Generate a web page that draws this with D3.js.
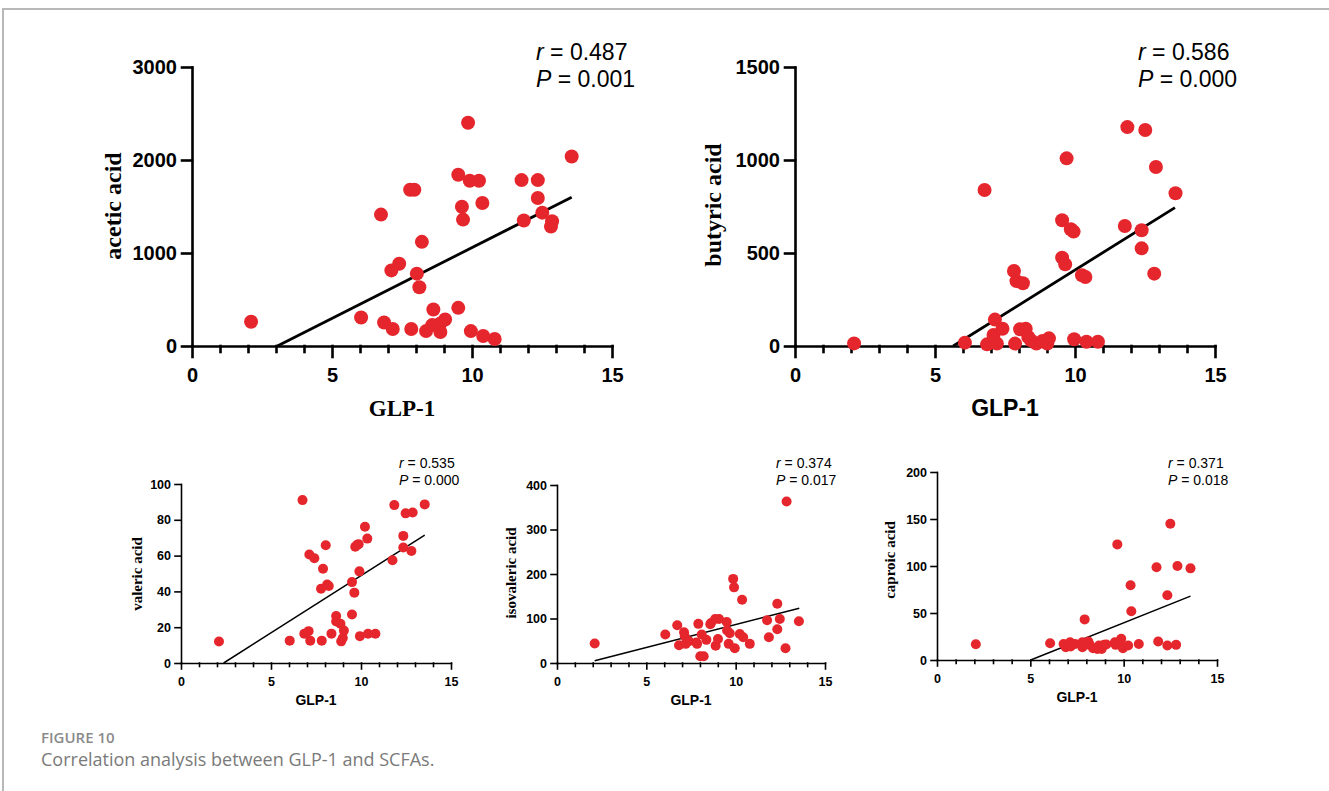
<!DOCTYPE html>
<html>
<head>
<meta charset="utf-8">
<script src="https://cdn.jsdelivr.net/npm/d3@7"></script>
<style>
  html, body { margin: 0; padding: 0; background: #fff; }
  svg { display: block; }
</style>
</head>
<body>
<svg id="fig" width="1329" height="791"></svg>
<script>
// Correlation between GLP-1 and SCFAs, five scatter panels


// -- Data -- //

// acetic acid
const aceticGlp = [2.11, 6.04, 6.75, 6.86, 7.12, 7.17, 7.40, 7.83, 7.79, 7.94, 8.03, 8.12, 8.21, 8.36, 8.58, 8.62, 8.87, 8.87, 9.04, 9.51, 9.51, 9.64, 9.68, 9.86, 9.92, 9.96, 10.25, 10.37, 10.40, 10.81, 11.77, 11.85, 12.35, 12.35, 12.51, 12.86, 12.82, 13.56];
const aceticVals = [260, 307, 1413, 253, 813, 182, 885, 182, 1680, 1680, 778, 631, 1120, 160, 225, 392, 150, 243, 285, 410, 1841, 1498, 1359, 2401, 1777, 160, 1777, 1538, 107, 75, 1784, 1349, 1784, 1591, 1434, 1341, 1284, 2037];
const aceticFit = [[3.05, 0], [13.56, 1600]];
const aceticTicks = [0, 1000, 2000, 3000];
const aceticStats = ["0.487", "0.001"];

// butyric acid
const butyricGlp = [2.11, 6.07, 6.77, 6.86, 7.09, 7.14, 7.21, 7.41, 7.82, 7.86, 7.91, 8.14, 8.04, 8.24, 8.33, 8.43, 8.62, 8.84, 9.01, 9.07, 9.54, 9.54, 9.65, 9.70, 9.85, 9.95, 9.97, 10.25, 10.37, 10.41, 10.82, 11.78, 11.87, 12.38, 12.38, 12.51, 12.83, 12.89, 13.59];
const butyricVals = [14, 18, 839, 9, 59, 142, 13, 93, 403, 13, 349, 337, 90, 93, 48, 30, 13, 27, 13, 41, 676, 475, 439, 1009, 628, 615, 36, 380, 371, 23, 23, 645, 1177, 622, 525, 1161, 389, 962, 821];
const butyricFit = [[5.65, 0], [13.57, 744]];
const butyricTicks = [0, 500, 1000, 1500];
const butyricStats = ["0.586", "0.000"];

// valeric acid
const valericGlp = [2.11, 6.04, 6.75, 6.85, 7.09, 7.13, 7.18, 7.41, 7.78, 7.82, 7.89, 8.04, 8.12, 8.21, 8.36, 8.62, 8.62, 8.86, 8.90, 8.99, 9.05, 9.50, 9.50, 9.63, 9.68, 9.79, 9.87, 9.91, 9.94, 10.22, 10.35, 10.39, 10.80, 11.75, 11.85, 12.35, 12.35, 12.48, 12.80, 12.87, 13.54];
const valericVals = [12, 12.5, 91, 16.3, 17.8, 60.6, 12.5, 58.5, 41.5, 12.5, 52.7, 65.8, 43.9, 43, 16.4, 26.2, 23.2, 21.9, 12.1, 14, 18.1, 27.1, 45.2, 39.3, 64.9, 66, 66.4, 51.2, 15, 76.1, 69.5, 16.3, 16.3, 57.4, 88.2, 71, 64.5, 83.6, 62.6, 84.1, 88.6];
const valericFit = [[2.37, 0], [13.54, 71.4]];
const valericTicks = [0, 20, 40, 60, 80, 100];
const valericStats = ["0.535", "0.000"];

// isovaleric acid
const isovalericGlp = [2.11, 6.06, 6.73, 6.83, 7.11, 7.15, 7.20, 7.39, 7.80, 7.84, 7.91, 8.02, 8.10, 8.21, 8.36, 8.58, 8.62, 8.85, 8.88, 9.01, 9.07, 9.50, 9.52, 9.61, 9.67, 9.86, 9.91, 9.95, 10.23, 10.36, 10.42, 10.79, 11.76, 11.86, 12.33, 12.33, 12.47, 12.79, 12.85, 13.54];
const isovalericVals = [44, 64, 85, 40, 69, 60, 43, 49, 46, 43, 88, 15, 64, 15, 52, 87, 90, 99, 39, 54, 99, 92, 73, 43, 67, 189, 170, 33, 65, 142, 58, 43, 96, 58, 133, 76, 99, 33, 363, 94];
const isovalericFit = [[2.11, 5], [13.56, 123]];
const isovalericTicks = [0, 100, 200, 300, 400];
const isovalericStats = ["0.374", "0.017"];

// caproic acid
const caproicGlp = [2.08, 6.06, 6.78, 6.90, 7.13, 7.16, 7.40, 7.79, 7.79, 7.91, 8.11, 8.18, 8.36, 8.59, 8.68, 8.82, 8.95, 9.07, 9.53, 9.57, 9.66, 9.78, 9.87, 9.96, 10.24, 10.37, 10.41, 10.81, 11.76, 11.85, 12.34, 12.34, 12.50, 12.81, 12.88, 13.58];
const caproicVals = [16.8, 17.9, 17.1, 13.6, 18.9, 14.3, 17.1, 18.9, 13.6, 43.2, 19.6, 16.1, 12.5, 11.8, 15.4, 11.8, 16.1, 16.4, 18.9, 16.1, 123, 19.6, 22.5, 12.5, 15.4, 79.6, 51.8, 17.1, 98.6, 19.6, 68.9, 15.4, 145, 16.1, 100, 97.5];
const caproicFit = [[5.02, 0], [13.58, 67.9]];
const caproicTicks = [0, 50, 100, 150, 200];
const caproicStats = ["0.371", "0.018"];

// shared x axis
const glpTicks = [0, 5, 10, 15];
const glpMinor = [1, 2, 3, 4, 6, 7, 8, 9, 11, 12, 13, 14];
const glpDomain = [0, 15];


// -- Styles -- //

const SANS = "'Liberation Sans', Arial, sans-serif";
const SERIF = "'Liberation Serif', 'Times New Roman', serif";
const RED = "#e5262c";

const big = {
  axisW: 2.6, tick: 10, xTick: 11, minor: 6, tickFont: 20, padY: 5, padX: 11,
  dotR: 7, fitW: 2.8, statFont: 23, statGap: 27, yLabelFont: 24, xLabelFont: 23,
};
const small = {
  axisW: 1.6, tick: 6, xTick: 6, minor: 3.5, tickFont: 12.5, padY: 4, padX: 8,
  dotR: 5, fitW: 1.5, statFont: 14, statGap: 16.5, yLabelFont: 15, xLabelFont: 14,
};

const panels = [
  {glp: aceticGlp, vals: aceticVals, fit: aceticFit, yTicks: aceticTicks, stats: aceticStats,
   label: "acetic acid", xFont: SERIF, st: big,
   left: 192, right: 612, top: 67, bottom: 346, labelX: 113, labelY: 206, statX: 536, statY: 60, xLabelY: 416},
  {glp: butyricGlp, vals: butyricVals, fit: butyricFit, yTicks: butyricTicks, stats: butyricStats,
   label: "butyric acid", xFont: SANS, st: big,
   left: 795, right: 1215, top: 67, bottom: 346, labelX: 713, labelY: 205, statX: 1138, statY: 60, xLabelY: 416},
  {glp: valericGlp, vals: valericVals, fit: valericFit, yTicks: valericTicks, stats: valericStats,
   label: "valeric acid", xFont: SANS, st: small,
   left: 181, right: 451, top: 484, bottom: 663, labelX: 137, labelY: 574, statX: 399, statY: 468, xLabelY: 705},
  {glp: isovalericGlp, vals: isovalericVals, fit: isovalericFit, yTicks: isovalericTicks, stats: isovalericStats,
   label: "isovaleric acid", xFont: SANS, st: small,
   left: 557, right: 825, top: 485, bottom: 663, labelX: 511, labelY: 573, statX: 776, statY: 468, xLabelY: 705},
  {glp: caproicGlp, vals: caproicVals, fit: caproicFit, yTicks: caproicTicks, stats: caproicStats,
   label: "caproic acid", xFont: SANS, st: small,
   left: 937, right: 1217, top: 472, bottom: 660, labelX: 890, labelY: 560, statX: 1168, statY: 468, xLabelY: 702},
];


// -- Draw -- //

const svg = d3.select("#fig");
svg.append("rect").attr("width", 1329).attr("height", 791).attr("fill", "#fff");

// page frame
svg.append("path")
  .attr("d", "M3,791 V9 H1329")
  .attr("fill", "none")
  .attr("stroke", "#b8b8b8")
  .attr("stroke-width", 2);

panels.forEach(drawPanel);

// caption
svg.append("text")
  .attr("x", 41).attr("y", 743)
  .attr("font-family", "'Open Sans', sans-serif")
  .attr("font-size", 15).attr("font-weight", 600)
  .attr("fill", "#8a8a8a")
  .text("FIGURE 10");
svg.append("text")
  .attr("x", 41).attr("y", 766)
  .attr("font-family", "'Open Sans', sans-serif")
  .attr("font-size", 18)
  .attr("fill", "#7a7a7a")
  .text("Correlation analysis between GLP-1 and SCFAs.");


function drawPanel(p) {
  const st = p.st;
  const x = d3.scaleLinear().domain(glpDomain).range([p.left, p.right]);
  const y = d3.scaleLinear().domain([0, d3.max(p.yTicks)]).range([p.bottom, p.top]);
  const g = svg.append("g");

  // x axis, major then minor ticks
  g.append("g")
    .attr("transform", `translate(0,${p.bottom})`)
    .call(d3.axisBottom(x).tickValues(glpTicks).tickFormat(d3.format("d"))
      .tickSize(st.xTick).tickSizeOuter(0).tickPadding(st.padX));
  g.append("g")
    .attr("transform", `translate(0,${p.bottom})`)
    .call(d3.axisBottom(x).tickValues(glpMinor).tickSize(st.minor).tickFormat("").tickSizeOuter(0))
    .call(a => a.select(".domain").remove());

  // y axis
  g.append("g")
    .attr("transform", `translate(${p.left},0)`)
    .call(d3.axisLeft(y).tickValues(p.yTicks).tickFormat(d3.format("d"))
      .tickSize(st.tick).tickSizeOuter(0).tickPadding(st.padY));

  g.selectAll(".domain, .tick line")
    .attr("stroke", "#000")
    .attr("stroke-width", st.axisW)
    .attr("stroke-linecap", "square");
  g.selectAll(".tick text")
    .attr("font-family", SANS)
    .attr("font-weight", "bold")
    .attr("font-size", st.tickFont)
    .attr("fill", "#000");

  // regression line
  g.append("line")
    .attr("x1", x(p.fit[0][0])).attr("y1", y(p.fit[0][1]))
    .attr("x2", x(p.fit[1][0])).attr("y2", y(p.fit[1][1]))
    .attr("stroke", "#000")
    .attr("stroke-width", st.fitW);

  // points
  g.append("g")
    .selectAll("circle")
    .data(p.glp.map((v, i) => [v, p.vals[i]]))
    .join("circle")
      .attr("cx", d => x(d[0]))
      .attr("cy", d => y(d[1]))
      .attr("r", st.dotR)
      .attr("fill", RED);

  // y label
  g.append("text")
    .attr("transform", `translate(${p.labelX},${p.labelY}) rotate(-90)`)
    .attr("text-anchor", "middle")
    .attr("dy", "0.35em")
    .attr("font-family", SERIF)
    .attr("font-weight", "bold")
    .attr("font-size", st.yLabelFont)
    .text(p.label);

  // x label
  g.append("text")
    .attr("x", (p.left + p.right) / 2)
    .attr("y", p.xLabelY)
    .attr("text-anchor", "middle")
    .attr("font-family", p.xFont)
    .attr("font-weight", "bold")
    .attr("font-size", st.xLabelFont)
    .text("GLP-1");

  // r and P values
  const lines = [["r", p.stats[0]], ["P", p.stats[1]]];
  lines.forEach((l, i) => {
    const t = g.append("text")
      .attr("x", p.statX)
      .attr("y", p.statY + i * st.statGap)
      .attr("font-family", SANS)
      .attr("font-size", st.statFont)
      .attr("fill", "#000");
    t.append("tspan").attr("font-style", "italic").text(l[0]);
    t.append("tspan").text(" = " + l[1]);
  });
}
</script>
</body>
</html>
